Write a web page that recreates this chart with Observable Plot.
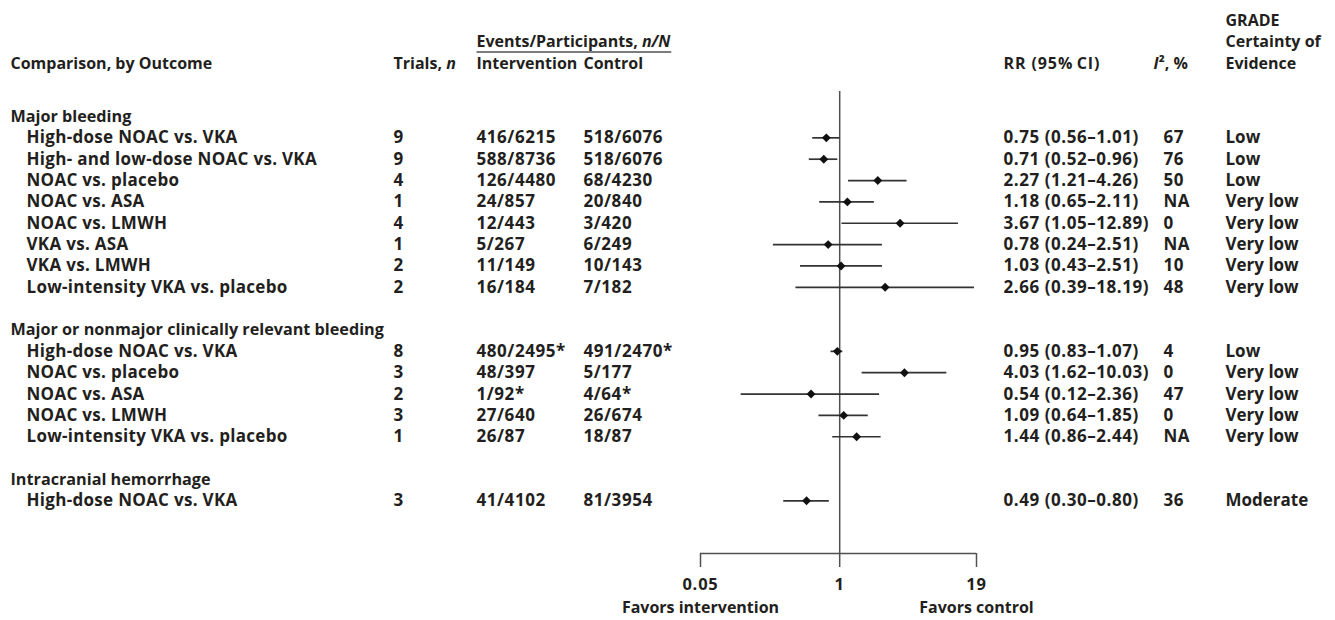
<!DOCTYPE html>
<html><head><meta charset="utf-8">
<script src="https://cdn.jsdelivr.net/npm/d3@7"></script>
<script src="https://cdn.jsdelivr.net/npm/@observablehq/plot@0.6"></script>
<style>
html,body{margin:0;padding:0;background:#fff;}
#chart svg{display:block;}
</style>
</head><body><div id="chart"></div>
<script>
// ---------- data ----------
const groups = ["Major bleeding", "Major or nonmajor clinically relevant bleeding", "Intracranial hemorrhage"];
const groupOf = [0,0,0,0,0,0,0,0, 1,1,1,1,1, 2];
const comparisons = [
  "High-dose NOAC vs. VKA", "High- and low-dose NOAC vs. VKA", "NOAC vs. placebo", "NOAC vs. ASA",
  "NOAC vs. LMWH", "VKA vs. ASA", "VKA vs. LMWH", "Low-intensity VKA vs. placebo",
  "High-dose NOAC vs. VKA", "NOAC vs. placebo", "NOAC vs. ASA", "NOAC vs. LMWH", "Low-intensity VKA vs. placebo",
  "High-dose NOAC vs. VKA"
];
const trials = [9, 9, 4, 1, 4, 1, 2, 2, 8, 3, 2, 3, 1, 3];
const interventionNN = ["416/6215", "588/8736", "126/4480", "24/857", "12/443", "5/267", "11/149", "16/184",
  "480/2495*", "48/397", "1/92*", "27/640", "26/87", "41/4102"];
const controlNN = ["518/6076", "518/6076", "68/4230", "20/840", "3/420", "6/249", "10/143", "7/182",
  "491/2470*", "5/177", "4/64*", "26/674", "18/87", "81/3954"];
const rr    = [0.75, 0.71, 2.27, 1.18, 3.67, 0.78, 1.03, 2.66, 0.95, 4.03, 0.54, 1.09, 1.44, 0.49];
const lower = [0.56, 0.52, 1.21, 0.65, 1.05, 0.24, 0.43, 0.39, 0.83, 1.62, 0.12, 0.64, 0.86, 0.30];
const upper = [1.01, 0.96, 4.26, 2.11, 12.89, 2.51, 2.51, 18.19, 1.07, 10.03, 2.36, 1.85, 2.44, 0.80];
const i2 = ["67", "76", "50", "NA", "0", "NA", "10", "48", "4", "0", "47", "0", "NA", "36"];
const grade = ["Low", "Low", "Low", "Very low", "Very low", "Very low", "Very low", "Very low",
  "Low", "Very low", "Very low", "Very low", "Very low", "Moderate"];
const xTicks = [0.05, 1, 19];
const favorLabels = ["Favors intervention", "Favors control"];

// ---------- layout (row units) ----------
const ROW0 = 116, ROWH = 21.35;
const rowAt = px => (px - ROW0) / ROWH;
const COL = {comp: 10, sub: 26, trials: 393, interv: 476, ctrl: 583, rr: 1003, i2h: 1153, i2: 1163, grade: 1225};

const rows = [], headers = [];
let k = 0;
groups.forEach((g, gi) => {
  if (gi > 0) k++;
  headers.push({label: g, row: k}); k++;
  groupOf.forEach((go, i) => {
    if (go === gi) {
      rows.push({
        row: k, comp: comparisons[i], trials: String(trials[i]), interv: interventionNN[i], ctrl: controlNN[i],
        rr: rr[i], lo: lower[i], hi: upper[i],
        rrText: `${rr[i].toFixed(2)} (${lower[i].toFixed(2)}\u2013${upper[i].toFixed(2)})`,
        i2: i2[i], grade: grade[i]
      });
      k++;
    }
  });
});

const RRHEAD = "RR (95%\u2009CI)";
const colHeaders = [
  {t: "Comparison, by Outcome", row: rowAt(63), dx: COL.comp},
  {t: "Trials, n", row: rowAt(63), dx: COL.trials},
  {t: "Events/Participants, n/N", row: rowAt(41), dx: COL.interv},
  {t: "Intervention", row: rowAt(63), dx: COL.interv},
  {t: "Control", row: rowAt(63), dx: COL.ctrl},
  {t: RRHEAD, row: rowAt(63), dx: COL.rr},
  {t: "I\u00B2, %", row: rowAt(63), dx: COL.i2h},
  {t: "GRADE", row: rowAt(20), dx: COL.grade},
  {t: "Certainty of", row: rowAt(41), dx: COL.grade},
  {t: "Evidence", row: rowAt(63), dx: COL.grade}
];

const TXT = "#231f20", LINE = "#505050", CI = "#333";
const textOpts = {frameAnchor: "left", textAnchor: "start", fill: TXT};
const col = (field, dx, size = 17) => Plot.text(rows, {...textOpts, y: "row", text: field, dx, fontSize: size});

const axisRow = rowAt(553);
const tickEnd = rowAt(567);

const plot = Plot.plot({
  width: 1335, height: 620,
  marginLeft: 0, marginRight: 0, marginTop: 0, marginBottom: 0,
  x: {type: "log", domain: [0.05, 19], range: [700, 976], axis: null},
  y: {type: "linear", domain: [0, 18], range: [ROW0, ROW0 + ROWH * 18], axis: null},
  style: {fontFamily: "'Open Sans', 'Noto Sans', sans-serif", fontSize: "16px", fontWeight: 700, background: "#fff", color: TXT, overflow: "visible"},
  marks: [
    // column headers
    ...colHeaders.map(h => Plot.text([h], {...textOpts, y: "row", text: "t", dx: h.dx})),
    // group headers
    Plot.text(headers, {...textOpts, y: "row", text: "label", dx: COL.comp, fontSize: 16.2}),
    // table columns
    col("comp", COL.sub), col("trials", COL.trials), col("interv", COL.interv), col("ctrl", COL.ctrl),
    col("rrText", COL.rr), col("i2", COL.i2), col("grade", COL.grade),
    // forest
    Plot.ruleX([1], {x: d => d, y1: rowAt(91), y2: axisRow, stroke: LINE, strokeWidth: 1.5}),
    Plot.ruleY(rows, {y: "row", x1: "lo", x2: "hi", stroke: CI, strokeWidth: 1.7}),
    Plot.dot(rows, {x: "rr", y: "row", symbol: "diamond2", r: 4, fill: "#111", stroke: null}),
    // axis
    Plot.ruleY([axisRow], {y: d => d, x1: xTicks[0], x2: xTicks[2], stroke: LINE, strokeWidth: 1.5}),
    Plot.ruleX(xTicks, {x: d => d, y1: axisRow, y2: tickEnd, stroke: LINE, strokeWidth: 1.5}),
    Plot.text(xTicks, {x: d => d, y: rowAt(584), text: d => String(d), fill: TXT, fontSize: 16.5}),
    Plot.text(favorLabels, {x: (d, i) => i === 0 ? xTicks[0] : xTicks[2], y: rowAt(607), text: d => d, fill: TXT})
  ]
});

document.getElementById("chart").appendChild(plot);

// letter spacing to emulate the wider original typeface; rich text
const compSet = new Set(comparisons);
const tickSet = new Set(xTicks.map(String));
const numRe = /^[0-9NA.\/*() \u2013]+$/;
plot.querySelectorAll("text").forEach(t => {
  const s = t.textContent;
  if (tickSet.has(s)) { t.style.letterSpacing = "0.8px"; return; }
  if (compSet.has(s)) { t.style.letterSpacing = "0.3px"; return; }
  if (numRe.test(s)) { t.style.letterSpacing = "0.55px"; return; }
  if (s === RRHEAD) { t.style.letterSpacing = "0.9px"; return; }
  if (s === "Trials, n") t.innerHTML = 'Trials, <tspan font-style="italic">n</tspan>';
  else if (s === "Events/Participants, n/N") {
    t.innerHTML = 'Events/Participants, <tspan font-style="italic">n/N</tspan>';
    const b = t.getBBox();
    const ln = document.createElementNS("http://www.w3.org/2000/svg", "line");
    const yy = b.y + b.height + 0.5;
    ln.setAttribute("x1", b.x); ln.setAttribute("x2", b.x + b.width);
    ln.setAttribute("y1", yy); ln.setAttribute("y2", yy);
    ln.setAttribute("stroke", LINE); ln.setAttribute("stroke-width", 1.5);
    if (t.getAttribute("transform")) ln.setAttribute("transform", t.getAttribute("transform"));
    t.parentNode.appendChild(ln);
  }
  else if (s === "I\u00B2, %") t.innerHTML = '<tspan font-style="italic">I</tspan>\u00B2, %';
});
</script>
</body></html>
